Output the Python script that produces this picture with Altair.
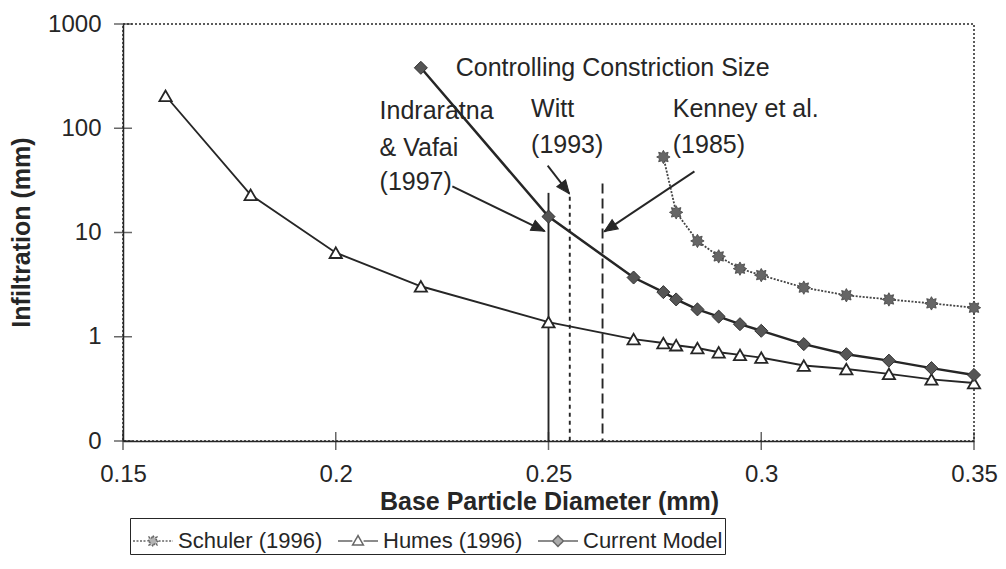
import altair as alt
import pandas as pd
import numpy as np

# ---------------- data ----------------
series_names = ["Schuler (1996)", "Humes (1996)", "Current Model"]

schuler_x = [0.277, 0.28, 0.285, 0.29, 0.295, 0.30, 0.31, 0.32, 0.33, 0.34, 0.35]
schuler_y = [53, 15.6, 8.3, 5.9, 4.5, 3.9, 2.96, 2.5, 2.28, 2.09, 1.9]

humes_x = [0.16, 0.18, 0.20, 0.22, 0.25, 0.27, 0.277, 0.28, 0.285, 0.29, 0.295,
           0.30, 0.31, 0.32, 0.33, 0.34, 0.35]
humes_y = [205, 23, 6.4, 3.05, 1.38, 0.95, 0.87, 0.83, 0.78, 0.71, 0.67,
           0.63, 0.53, 0.49, 0.44, 0.39, 0.36]

model_x = [0.22, 0.25, 0.27, 0.277, 0.28, 0.285, 0.29, 0.295, 0.30, 0.31, 0.32,
           0.33, 0.34, 0.35]
model_y = [380, 14.2, 3.7, 2.68, 2.28, 1.83, 1.56, 1.32, 1.14, 0.85, 0.68,
           0.59, 0.50, 0.43]

# controlling constriction sizes (vertical lines)
vline_x = [0.25, 0.255, 0.2627]
vline_top = [24, 22, 29.5]
vline_bottom = [0.1, 0.1, 0.1]
vline_style = ["solid", "dotted", "dashed"]

# annotation arrows
arrow_x0 = [0.2274, 0.2498, 0.2843]
arrow_y0 = [27.7, 43.8, 38.6]
arrow_x1 = [0.2491, 0.2549, 0.2631]
arrow_y1 = [10.3, 23.6, 10.2]
arrow_angle = [116, 142, 236]

# annotation texts
note_text = ["Controlling Constriction Size", "Indraratna", "& Vafai", "(1997)",
             "Witt", "(1993)", "Kenney et al.", "(1985)"]
note_x = [0.2282, 0.2103, 0.2103, 0.2103, 0.2459, 0.2459, 0.2792, 0.2792]
note_y = [379, 147, 65, 30.8, 154, 69.5, 154, 69.5]

y_tick_values = [0.1, 1, 10, 100, 1000]
x_tick_values = [0.15, 0.2, 0.25, 0.3, 0.35]

# ---------------- helpers ----------------
FONT = "Liberation Sans"
INK = "#262626"


def star_path(r_out, r_in, n=8):
    pts = []
    for k in range(2 * n):
        a = np.pi * k / n
        r = r_out if k % 2 == 0 else r_in
        pts.append((r * np.sin(a), -r * np.cos(a)))
    return "M" + "L".join(f"{x:.3f},{y:.3f}" for x, y in pts) + "Z"


STAR = star_path(1.0, 0.62)
ARROW = "M0,0L-0.42,1L0.42,1Z"

seg = "M-1,0L-0.28,0M0.28,0L1,0"
LEG_S = seg + star_path(0.27, 0.17)
LEG_H = seg + "M0,-0.27L0.27,0.2L-0.27,0.2Z"
LEG_C = seg + "M0,-0.27L0.27,0L0,0.27L-0.27,0Z"

xs = alt.Scale(domain=[0.15, 0.35], nice=False, zero=False)
ys = alt.Scale(type="log", domain=[0.1, 1000], nice=False)

xaxis = alt.Axis(values=x_tick_values, format=".2~f", ticks=False, grid=False,
                 labelFlush=False, labelOverlap=False,
                 labelPadding=21, labelFont=FONT, labelFontSize=24, labelColor=INK,
                 domainColor=INK, domainWidth=1.5,
                 titleFont=FONT, titleFontSize=25, titleFontWeight="bold",
                 titleColor=INK, titleX=426, titleY=60, titleBaseline="middle")
yaxis = alt.Axis(values=y_tick_values,
                 labelExpr="datum.value < 0.5 ? '0' : format(datum.value, 'd')",
                 labelFlush=False, labelOverlap=False,
                 ticks=False, grid=False, labelPadding=22, labelFont=FONT,
                 labelFontSize=24, labelColor=INK, domainColor=INK, domainWidth=1.5,
                 titleFont=FONT, titleFontSize=25, titleFontWeight="bold",
                 titleColor=INK, titleX=-102, titleY=208, titleBaseline="middle")

XT = "Base Particle Diameter (mm)"
YT = "Infiltration (mm)"


def X(field):
    return alt.X(field, type="quantitative", scale=xs, axis=xaxis, title=XT)


def Y(field):
    return alt.Y(field, type="quantitative", scale=ys, axis=yaxis, title=YT)


df_s = pd.DataFrame({"x": schuler_x, "y": schuler_y})
df_h = pd.DataFrame({"x": humes_x, "y": humes_y})
df_m = pd.DataFrame({"x": model_x, "y": model_y})
df_v = pd.DataFrame({"x": vline_x, "y": vline_top, "y2": vline_bottom, "style": vline_style})
df_a = pd.DataFrame({"x": arrow_x0, "y": arrow_y0, "x2": arrow_x1, "y2": arrow_y1,
                     "angle": arrow_angle})
df_n = pd.DataFrame({"x": note_x, "y": note_y, "label": note_text})
df_yt = pd.DataFrame({"y": y_tick_values})
df_xt = pd.DataFrame({"x": x_tick_values})
df_leg = pd.DataFrame({"series": series_names})

# ---------------- layers ----------------
line_s = alt.Chart(df_s).mark_line(color="#444", strokeWidth=1.8, strokeDash=[2, 1.5]).encode(
    x=X("x"), y=Y("y"))
line_h = alt.Chart(df_h).mark_line(color=INK, strokeWidth=1.9).encode(x=X("x"), y=Y("y"))
line_m = alt.Chart(df_m).mark_line(color=INK, strokeWidth=2.5).encode(x=X("x"), y=Y("y"))

pts_s = alt.Chart(df_s).mark_point(shape=STAR, filled=True, fill="#666", stroke="#444",
                                   strokeWidth=0.8, size=180, opacity=1).encode(
    x=X("x"), y=Y("y"))
pts_h = alt.Chart(df_h).mark_point(shape="triangle-up", filled=True, fill="white",
                                   stroke=INK, strokeWidth=1.8, size=150, opacity=1).encode(
    x=X("x"), y=Y("y"))
pts_m = alt.Chart(df_m).mark_point(shape="diamond", filled=True, fill="#555", stroke="#333",
                                   strokeWidth=1, size=170, opacity=1).encode(
    x=X("x"), y=Y("y"))

vl_solid = alt.Chart(df_v).transform_filter("datum.style == 'solid'").mark_rule(
    color=INK, strokeWidth=1.9).encode(x=X("x"), y=Y("y"), y2="y2")
vl_dot = alt.Chart(df_v).transform_filter("datum.style == 'dotted'").mark_rule(
    color=INK, strokeWidth=1.9, strokeDash=[4, 4]).encode(x=X("x"), y=Y("y"), y2="y2")
vl_dash = alt.Chart(df_v).transform_filter("datum.style == 'dashed'").mark_rule(
    color=INK, strokeWidth=1.9, strokeDash=[10, 5]).encode(x=X("x"), y=Y("y"), y2="y2")

arrows = alt.Chart(df_a).mark_rule(color=INK, strokeWidth=1.9).encode(
    x=X("x"), y=Y("y"), x2="x2", y2="y2")
heads = alt.Chart(df_a).mark_point(shape=ARROW, filled=True, fill=INK, stroke=INK,
                                   strokeWidth=1, size=700, opacity=1).encode(
    x=X("x2"), y=Y("y2"), angle=alt.Angle("angle:Q", scale=None))

notes = alt.Chart(df_n).mark_text(align="left", baseline="middle", font=FONT,
                                  fontSize=25, color=INK).encode(
    x=X("x"), y=Y("y"), text="label:N")

yticks = alt.Chart(df_yt).mark_tick(orient="horizontal", size=18, thickness=1.5,
                                    color=INK).encode(x=alt.datum(0.15), y=Y("y"))
xticks = alt.Chart(df_xt).mark_tick(orient="vertical", size=18, thickness=1.5,
                                    color=INK).encode(x=X("x"), y=alt.datum(0.1))


def leg():
    return alt.Legend(title=None, orient="none", legendX=7, legendY=494,
                      direction="horizontal", columns=3,
                      labelFont=FONT, labelFontSize=22, labelColor=INK,
                      symbolSize=1600, symbolStrokeColor=INK,
                      symbolStrokeWidth=1.5, strokeColor=INK,
                      padding=2, columnPadding=12, labelOffset=4)


legend_layer = alt.Chart(df_leg).transform_filter("false").mark_point(
    filled=True, strokeWidth=1.5).encode(
    shape=alt.Shape("series:N", scale=alt.Scale(domain=series_names,
                                                range=[LEG_S, LEG_H, LEG_C]),
                    legend=leg()),
    fill=alt.Fill("series:N", scale=alt.Scale(domain=series_names,
                                              range=["#666", "white", "#555"]),
                  legend=leg()),
    stroke=alt.Stroke("series:N", scale=alt.Scale(domain=series_names,
                                                  range=[INK, INK, INK]),
                      legend=leg()),
    strokeDash=alt.StrokeDash("series:N", scale=alt.Scale(domain=series_names,
                                                          range=[[2, 1.5], [1, 0], [1, 0]]),
                              legend=leg()),
)

chart = alt.layer(
    vl_solid, vl_dot, vl_dash,
    line_s, line_h, line_m,
    arrows, heads,
    pts_s, pts_h, pts_m,
    notes, yticks, xticks, legend_layer,
).properties(
    width=851, height=417,
    autosize=alt.AutoSizeParams(type="none"),
    padding={"left": 115, "top": 16, "right": 24, "bottom": 128},
    background="white",
).configure_view(
    stroke=INK, strokeDash=[2, 2], strokeWidth=1.5
)

chart.save("out.html", embed_options={"renderer": "svg", "actions": False})
